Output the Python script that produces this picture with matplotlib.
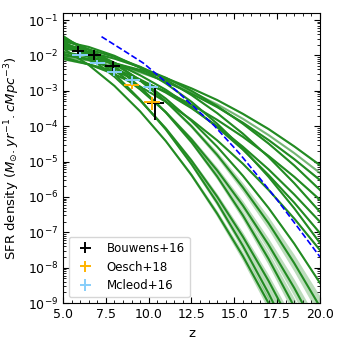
import numpy as np
import matplotlib
matplotlib.use("Agg")
import matplotlib.pyplot as plt
from matplotlib.ticker import MultipleLocator, LogLocator, NullFormatter

# model grid in redshift
model_z = [5.0, 6.5, 8.0, 9.5, 11.0, 12.5, 14.0, 15.5, 17.0, 18.5, 20.0]

# log10 SFR density of each model
m01 = [-2.00, -2.09, -2.22, -2.41, -2.64, -2.93, -3.26, -3.65, -4.08, -4.57, -5.10]
m02 = [-2.05, -2.14, -2.29, -2.48, -2.73, -3.03, -3.38, -3.79, -4.25, -4.76, -5.32]
m03 = [-1.90, -2.03, -2.22, -2.45, -2.74, -3.08, -3.46, -3.90, -4.39, -4.93, -5.52]
m04 = [-1.80, -1.91, -2.09, -2.33, -2.63, -3.00, -3.43, -3.93, -4.49, -5.11, -5.80]
m05 = [-2.10, -2.25, -2.45, -2.71, -3.02, -3.39, -3.82, -4.30, -4.84, -5.43, -6.08]
m06 = [-1.70, -1.83, -2.04, -2.32, -2.68, -3.12, -3.63, -4.21, -4.87, -5.61, -6.42]
m07 = [-1.95, -2.13, -2.37, -2.68, -3.05, -3.49, -4.00, -4.58, -5.22, -5.93, -6.70]
m08 = [-1.75, -1.95, -2.21, -2.56, -2.97, -3.46, -4.03, -4.66, -5.38, -6.16, -7.02]
m09 = [-1.60, -1.76, -2.01, -2.35, -2.79, -3.31, -3.93, -4.63, -5.43, -6.32, -7.30]
m10 = [-2.05, -2.25, -2.53, -2.88, -3.31, -3.82, -4.40, -5.06, -5.80, -6.61, -7.50]
m11 = [-1.65, -1.90, -2.25, -2.69, -3.22, -3.85, -4.58, -5.40, -6.31, -7.32, -8.43]
m12 = [-1.55, -1.83, -2.21, -2.71, -3.30, -4.00, -4.81, -5.73, -6.74, -7.87, -9.10]
m13 = [-1.70, -2.00, -2.42, -2.96, -3.60, -4.37, -5.25, -6.24, -7.35, -8.57, -9.91]
m14 = [-1.50, -1.84, -2.30, -2.89, -3.61, -4.45, -5.42, -6.52, -7.75, -9.10, -10.58]
m15 = [-1.60, -2.04, -2.60, -3.27, -4.06, -4.97, -5.99, -7.12, -8.37, -9.74, -11.22]
m16 = [-1.45, -1.93, -2.52, -3.25, -4.09, -5.07, -6.16, -7.38, -8.72, -10.19, -11.78]
m17 = [-1.80, -2.27, -2.86, -3.58, -4.42, -5.38, -6.47, -7.67, -9.00, -10.46, -12.03]
models = [m01, m02, m03, m04, m05, m06, m07, m08, m09, m10, m11,
          m12, m13, m14, m15, m16, m17]
model_alpha = [1, 0.55, 1, 1, 1, 1, 1, 1, 1, 1, 1, 1, 1, 1, 1, 1, 1]
# half width (dex) of the shaded scatter around each model, per grid point
spread_narrow = [0.03, 0.02, 0.02, 0.02, 0.02, 0.02, 0.02, 0.03, 0.03, 0.03, 0.04]
spread_wide = [0.03, 0.02, 0.02, 0.03, 0.04, 0.06, 0.09, 0.13, 0.18, 0.24, 0.30]
model_wide = [False] * 11 + [True] * 6

# Madau-like extrapolation (dashed)
md_z = [7.25, 8.5, 9.7, 10.7, 11.6, 12.7, 13.8, 15.3, 16.5, 17.5, 18.7, 20.0]
md_log = [-1.47, -1.85, -2.22, -2.63, -2.99, -3.48, -3.97, -4.77, -5.48, -6.08, -6.85, -7.69]

# observations
bouwens_z = [5.9, 6.8, 7.9, 10.4]
bouwens_zerr = [0.35, 0.4, 0.45, 0.5]
bouwens_sfr = [1.35e-2, 1.02e-2, 5.1e-3, 4.5e-4]
bouwens_lo = [9.4e-3, 7.4e-3, 3.7e-3, 1.5e-4]
bouwens_hi = [1.9e-2, 1.4e-2, 7.0e-3, 1.2e-3]

oesch_z = [9.0, 10.2]
oesch_zerr = [0.45, 0.45]
oesch_sfr = [1.45e-3, 4.8e-4]
oesch_lo = [1.15e-3, 2.9e-4]
oesch_hi = [1.8e-3, 6.8e-4]

mcleod_z = [6.0, 7.0, 8.0, 9.05, 10.1]
mcleod_zerr = [0.45, 0.45, 0.45, 0.45, 0.45]
mcleod_sfr = [1.02e-2, 6.3e-3, 3.4e-3, 2.0e-3, 1.26e-3]
mcleod_lo = [8.3e-3, 5.2e-3, 2.7e-3, 1.5e-3, 9.1e-4]
mcleod_hi = [1.25e-2, 7.6e-3, 4.3e-3, 2.6e-3, 1.75e-3]


def main():
    fig = plt.figure(figsize=(3.5, 3.5), dpi=100)
    ax = fig.add_axes([0.18, 0.134, 0.734, 0.829])

    green = '#228B22'
    zz = np.array(model_z)
    for m, a, wide in zip(models, model_alpha, model_wide):
        m = np.array(m)
        sp = np.array(spread_wide if wide else spread_narrow)
        ax.fill_between(zz, 10 ** (m - sp), 10 ** (m + sp), color=green,
                        alpha=0.3 * a, lw=0)
        ax.plot(zz, 10 ** m, color=green, lw=1.5, alpha=a)

    ax.plot(md_z, 10 ** np.array(md_log), '--', color='blue', lw=1.2)

    def obs(z, zerr, sfr, lo, hi, color, label):
        sfr = np.array(sfr)
        yerr = [sfr - np.array(lo), np.array(hi) - sfr]
        ax.errorbar(z, sfr, xerr=zerr, yerr=yerr, fmt='none', ecolor=color,
                    elinewidth=1.4, label=label)

    obs(bouwens_z, bouwens_zerr, bouwens_sfr, bouwens_lo, bouwens_hi, 'black', 'Bouwens+16')
    obs(oesch_z, oesch_zerr, oesch_sfr, oesch_lo, oesch_hi, '#FFB300', 'Oesch+18')
    obs(mcleod_z, mcleod_zerr, mcleod_sfr, mcleod_lo, mcleod_hi, 'lightskyblue', 'Mcleod+16')

    ax.set_yscale('log')
    ax.set_xlim(5, 20)
    ax.set_ylim(1e-9, 10 ** -0.8)
    ax.xaxis.set_minor_locator(MultipleLocator(0.5))
    ax.yaxis.set_minor_locator(LogLocator(base=10, subs=np.arange(2, 10), numticks=20))
    ax.yaxis.set_minor_formatter(NullFormatter())
    ax.tick_params(which='both', direction='in', top=True, right=True, labelsize=9)
    ax.tick_params(which='major', length=4)
    ax.tick_params(which='minor', length=2)

    ax.set_xlabel('z', fontsize=9.5)
    ax.set_ylabel(r'SFR density $(M_{\odot}.yr^{-1}.cMpc^{-3})$', fontsize=9.5)
    ax.legend(loc='lower left', fontsize=8.5)

    fig.savefig('out.png', dpi=100)


if __name__ == '__main__':
    main()
